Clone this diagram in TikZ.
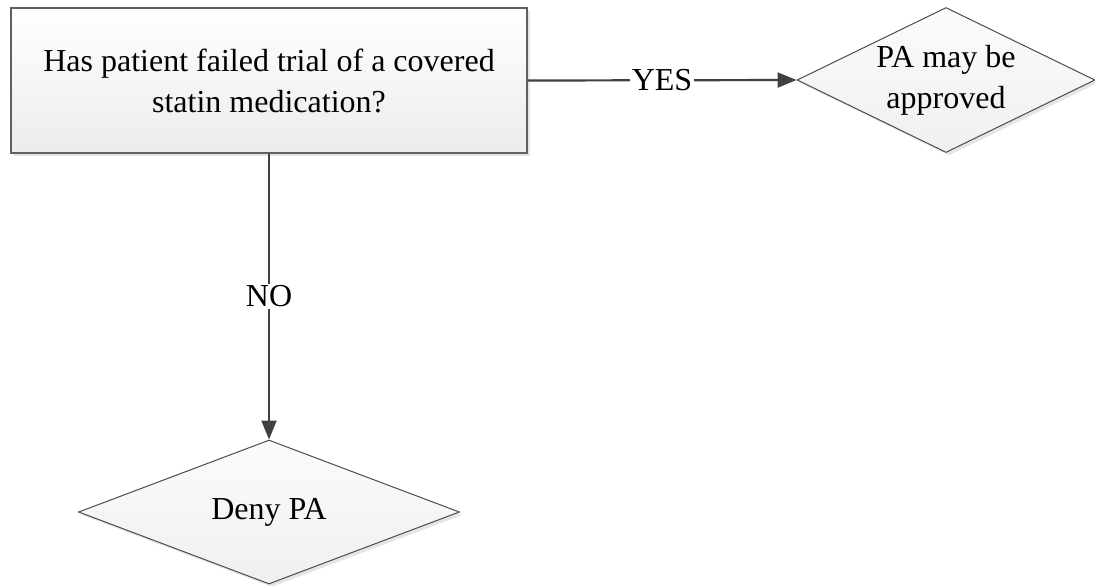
\documentclass[tikz,border=0pt]{standalone}
\usepackage{fontspec}
\setmainfont{Liberation Serif}
\usetikzlibrary{shapes.geometric,arrows.meta,shadows}
\begin{document}
\begin{tikzpicture}[x=0.5pt,y=-0.5pt,
  txt/.style={font=\fontsize{16}{20.5}\selectfont},
  shd/.style={drop shadow={shadow xshift=1.5pt, shadow yshift=-1.5pt, fill=gray!45, opacity=0.45}},
  box/.style={txt, shd, draw=gray!75!black, line width=0.6pt, top color=white, bottom color=gray!15, align=center, inner sep=0pt},
  dia/.style={txt, shd, diamond, shape aspect=2, draw=gray!60!black, line width=0.5pt, top color=white!97!gray, bottom color=gray!12, align=center, inner sep=0pt},
  conn/.style={draw=black!75, line width=1.1pt, -{Triangle[length=9.5pt,width=7.5pt]}},
  lbl/.style={txt, fill=white, inner sep=1pt}
]
\useasboundingbox (0,0) rectangle (1095,585);
\node[box, minimum width=258pt, minimum height=72.5pt] (q) at (269,80.5) {Has patient failed trial of a covered\\statin medication?};
\node[dia, minimum width=149pt, minimum height=72.5pt] (yes) at (946,80) {PA may be\\approved};
\node[dia, minimum width=190.5pt, minimum height=72pt] (no) at (269,512) {Deny PA};
\draw[conn] (q.east) -- node[lbl]{YES} (yes.west);
\draw[conn] (q.south) -- node[lbl]{NO} (no.north);
\end{tikzpicture}
\end{document}
